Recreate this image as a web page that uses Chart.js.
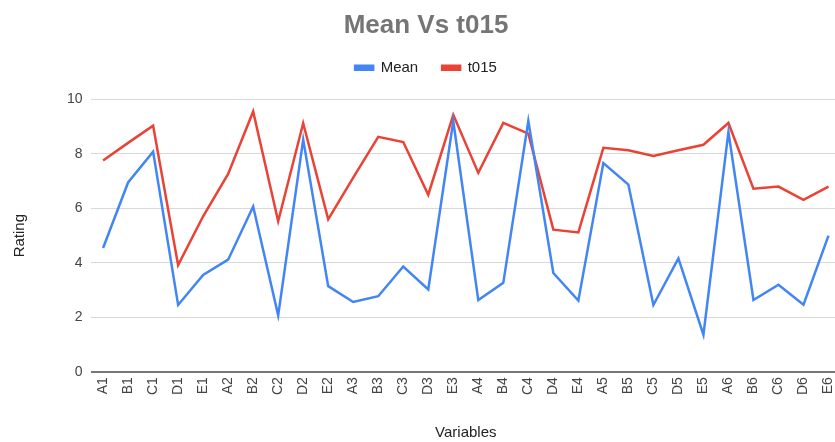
<!DOCTYPE html>
<html>
<head>
<meta charset="utf-8">
<script src="https://cdn.jsdelivr.net/npm/chart.js@4/dist/chart.umd.min.js"></script>
<style>
  html, body { margin: 0; padding: 0; background: #fff; overflow: hidden; }
  #wrap { width: 835px; height: 442px; overflow: hidden; }
</style>
</head>
<body>
<!-- the plot in the original runs a few pixels past the right edge -->
<div id="wrap"><canvas id="chart" width="841" height="442"></canvas></div>
<script>
// categories and series values
var variables = ['A1', 'B1', 'C1', 'D1', 'E1', 'A2', 'B2', 'C2', 'D2', 'E2',
  'A3', 'B3', 'C3', 'D3', 'E3', 'A4', 'B4', 'C4', 'D4', 'E4',
  'A5', 'B5', 'C5', 'D5', 'E5', 'A6', 'B6', 'C6', 'D6', 'E6'];

var meanValues = [4.55, 6.95, 8.08, 2.46, 3.56, 4.12, 6.07, 2.08, 8.52, 3.15,
  2.57, 2.78, 3.87, 3.03, 9.2, 2.64, 3.27, 9.2, 3.63, 2.62,
  7.66, 6.87, 2.46, 4.17, 1.37, 8.8, 2.64, 3.2, 2.47, 5.0];

var t015Values = [7.75, 8.4, 9.03, 3.92, 5.71, 7.26, 9.55, 5.53, 9.12, 5.6,
  7.13, 8.62, 8.43, 6.5, 9.43, 7.3, 9.13, 8.74, 5.22, 5.12,
  8.22, 8.13, 7.92, 8.13, 8.33, 9.13, 6.72, 6.8, 6.31, 6.8];

var yTicks = [0, 2, 4, 6, 8, 10];

var font = "Arial, 'Liberation Sans', sans-serif";

// legend sits higher than chart.js would put it, leave a gap under it
var legendGap = {
  id: 'legendGap',
  beforeInit: function(chart) {
    var fit = chart.legend.fit;
    chart.legend.fit = function() {
      fit.bind(chart.legend)();
      this.height += 14;
    };
  }
};

var ctx = document.getElementById('chart').getContext('2d');
var chart = new Chart(ctx, {
  type: 'line',
  data: {
    labels: variables,
    datasets: [
      {
        label: 'Mean',
        data: meanValues,
        borderColor: '#4285f4',
        backgroundColor: '#4285f4',
        borderWidth: 2.5,
        pointRadius: 0,
        tension: 0
      },
      {
        label: 't015',
        data: t015Values,
        borderColor: '#ea4335',
        backgroundColor: '#ea4335',
        borderWidth: 2.5,
        pointRadius: 0,
        tension: 0
      }
    ]
  },
  options: {
    responsive: false,
    animation: false,
    layout: { padding: { left: 11, right: 0, top: 10, bottom: 0 } },
    plugins: {
      title: {
        display: true,
        text: 'Mean Vs t015',
        color: '#757575',
        font: { family: font, size: 26, weight: 'bold' },
        padding: { top: 0, bottom: -5 }
      },
      legend: {
        display: true,
        position: 'top',
        labels: {
          color: '#222222',
          font: { family: font, size: 15 },
          boxWidth: 18,
          boxHeight: 4,
          padding: 24
        }
      },
      tooltip: { enabled: false }
    },
    scales: {
      x: {
        offset: true,
        afterFit: function(scale) {
          scale.paddingRight = 0;
          scale.paddingLeft = 0;
        },
        grid: { display: false, drawTicks: false },
        border: { display: false },
        ticks: {
          color: '#444444',
          font: { family: font, size: 14 },
          minRotation: 90,
          maxRotation: 90,
          autoSkip: false,
          padding: 5
        },
        title: {
          display: true,
          text: 'Variables',
          color: '#222222',
          font: { family: font, size: 15 },
          padding: { top: 24, bottom: 0 }
        }
      },
      y: {
        min: 0,
        max: 10,
        afterBuildTicks: function(axis) {
          axis.ticks = yTicks.map(function(v) { return { value: v }; });
        },
        grid: {
          color: function(c) { return c.tick && c.tick.value === 0 ? '#777777' : '#d9d9d9'; },
          lineWidth: function(c) { return c.tick && c.tick.value === 0 ? 2 : 1; },
          drawTicks: false
        },
        border: { display: false },
        ticks: {
          color: '#444444',
          font: { family: font, size: 14 },
          padding: 8
        },
        title: {
          display: true,
          text: 'Rating',
          color: '#222222',
          font: { family: font, size: 15 },
          padding: { top: 0, bottom: 30 }
        }
      }
    }
  },
  plugins: [legendGap]
});
</script>
</body>
</html>
